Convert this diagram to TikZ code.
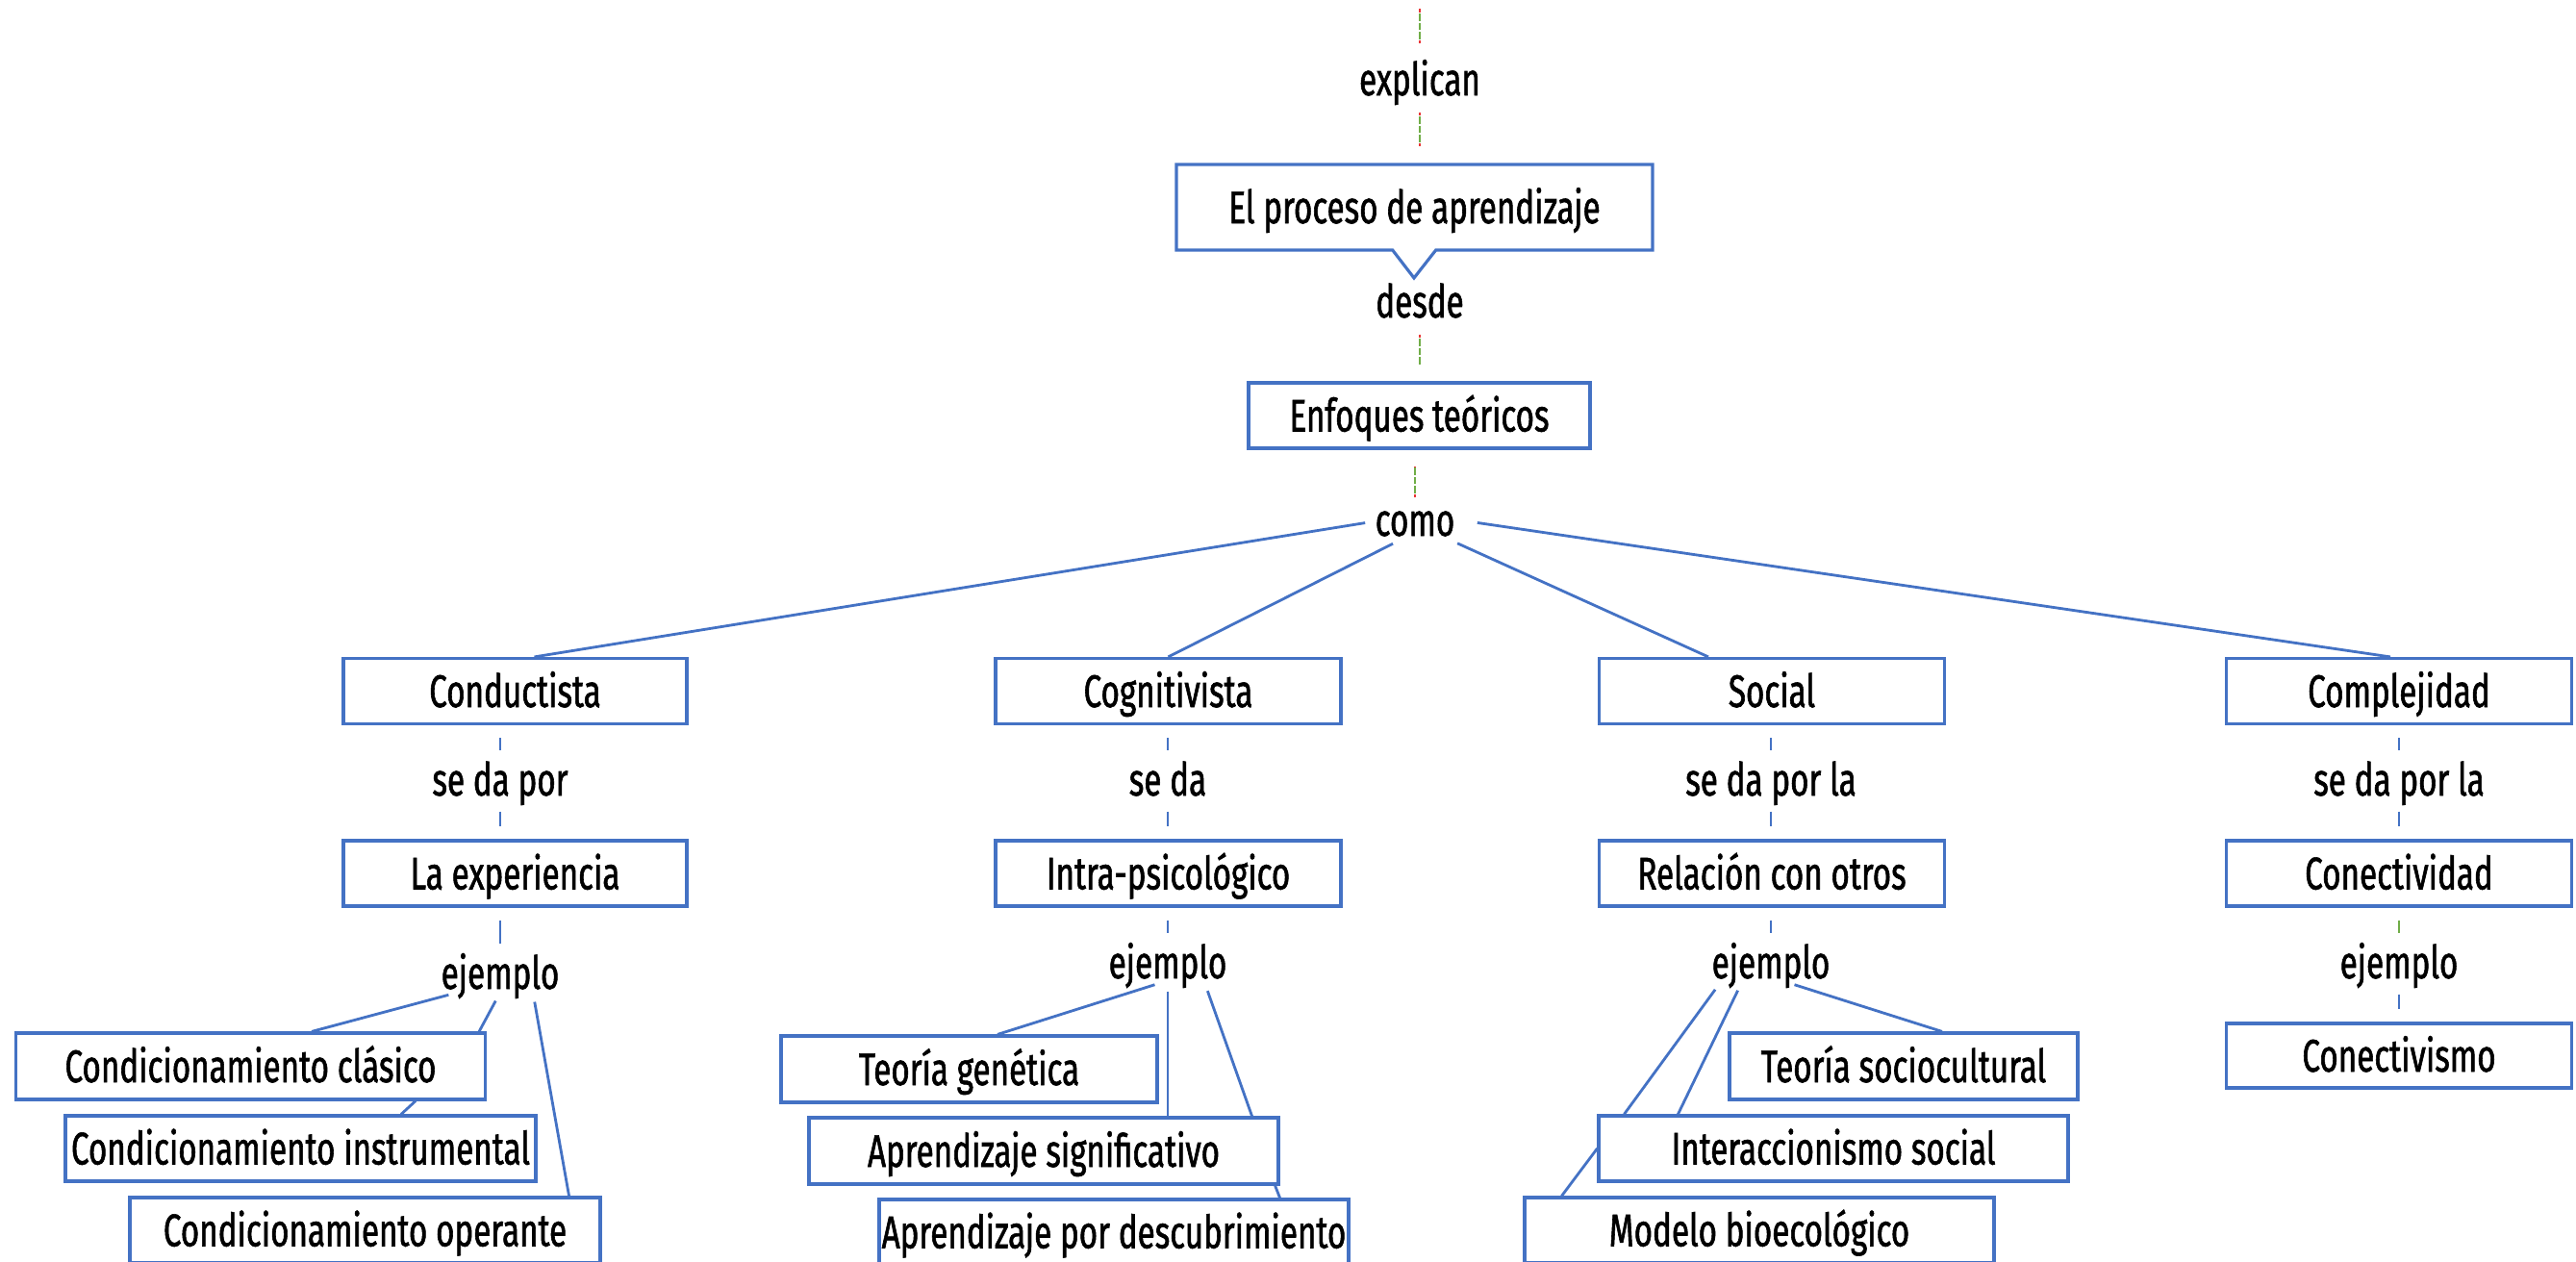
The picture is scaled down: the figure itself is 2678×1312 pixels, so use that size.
\documentclass[tikz,border=0pt]{standalone}
\usepackage{fontspec}
\setmainfont[FakeStretch=0.7, FakeBold=1.2]{Fira Sans}
\usetikzlibrary{shapes.callouts}
\definecolor{boxblue}{RGB}{68,114,196}
\definecolor{tred}{RGB}{232,52,52}
\definecolor{tgreen}{RGB}{112,173,71}

\begin{document}
\begin{tikzpicture}[x=0.1mm, y=-0.1mm,
  font=\fontsize{13.5pt}{16pt}\selectfont,
  box/.style={draw=boxblue, line width=0.9pt, fill=white, inner sep=0pt, minimum height=6.8mm, text height=9.4pt, text depth=0pt},
  lbl/.style={anchor=base, inner sep=0pt, text height=9.4pt, text depth=0.3mm},
  branch/.style={draw=boxblue, line width=0.8pt},
  twig/.style={branch, shorten <=1mm},
  tie/.style={draw=boxblue, line width=0.8pt, shorten <=1.3mm, shorten >=1.3mm},
  longtie/.style={draw=tred, line width=0.7pt, shorten <=1.4mm, shorten >=1.7mm,
    dash pattern=on 0.35mm off 2.9mm on 0.35mm off 10mm,
    postaction={draw=tgreen, dash pattern=on 0pt off 0.45mm on 0.75mm off 0.2mm on 0.75mm off 0.2mm on 0.75mm off 10mm}}]
\useasboundingbox (0,0) rectangle (2678,1312);

\coordinate (topend) at (1476,9);
\node[lbl] (expl) at (1476,99) {explican};
\node[box, rectangle callout, minimum width=49.5mm, minimum height=8.9mm,
  callout absolute pointer={(1470,289)}, callout pointer width=4.5mm] (proc) at (1470.5,215.5) {El proceso de aprendizaje};
\node[lbl] (desde) at (1476,330) {desde};
\node[box, minimum width=35.5mm] (enf) at (1475.5,432) {Enfoques teóricos};
\node[lbl] (como) at (1471,557) {como};

\node[box, minimum width=35.7mm] (cond) at (535.5,718.5) {Conductista};
\node[box, minimum width=35.9mm] (cog) at (1214.5,718.5) {Cognitivista};
\node[box, minimum width=35.9mm] (soc) at (1842,718.5) {Social};
\node[box, minimum width=35.9mm] (comp) at (2494,718.5) {Complejidad};

\node[lbl] (sedaA) at (520,827) {se da por};
\node[lbl] (sedaB) at (1214,827) {se da};
\node[lbl] (sedaC) at (1841,827) {se da por la};
\node[lbl] (sedaD) at (2494,827) {se da por la};

\node[box, minimum width=35.7mm] (expe) at (535.5,908) {La experiencia};
\node[box, minimum width=35.9mm] (intra) at (1214.5,908) {Intra-psicológico};
\node[box, minimum width=35.9mm] (rel) at (1842,908) {Relación con otros};
\node[box, minimum width=35.9mm] (conec) at (2494,908) {Conectividad};

\node[lbl] (ejA) at (520,1028) {ejemplo};
\node[lbl] (ejB) at (1214,1017) {ejemplo};
\node[lbl] (ejC) at (1841,1017) {ejemplo};
\node[lbl] (ejD) at (2494,1017) {ejemplo};

\node[box, minimum width=48.8mm, minimum height=6.9mm] (clas) at (260.5,1108.5) {Condicionamiento clásico};
\node[box, minimum width=48.9mm] (inst) at (312.5,1194) {Condicionamiento instrumental};
\node[box, minimum width=48.9mm] (oper) at (379.5,1279) {Condicionamiento operante};
\node[box, minimum width=39.1mm, minimum height=6.9mm] (gen) at (1007.5,1111.5) {Teoría genética};
\node[box, minimum width=48.8mm, minimum height=6.9mm] (sig) at (1085,1196.5) {Aprendizaje significativo};
\node[box, minimum width=48.8mm] (desc) at (1158,1281) {Aprendizaje por descubrimiento};
\node[box, minimum width=36.2mm, minimum height=6.9mm] (soci) at (1979,1108.5) {Teoría sociocultural};
\node[box, minimum width=48.8mm] (inter) at (1906,1194) {Interaccionismo social};
\node[box, minimum width=48.8mm] (mod) at (1829,1279) {Modelo bioecológico};
\node[box, minimum width=35.9mm, minimum height=6.7mm] (conv) at (2494,1097.5) {Conectivismo};

\draw[longtie, shorten <=2mm, shorten >=0pt] (expl) -- (topend);
\draw[longtie] (expl) -- (expl |- proc.north);
\draw[longtie] (desde) -- (desde |- enf.north);
\draw[longtie, shorten <=0.6mm] (como) -- (como |- enf.south);

\draw[twig] (como.west) -- ([xshift=2mm]cond.north);
\draw[twig] ([xshift=-1.4mm]como.south) -- (cog.north);
\draw[twig] ([xshift=3.5mm]como.south) -- ([xshift=-6.6mm]soc.north);
\draw[twig] ([xshift=1.3mm]como.east) -- ([xshift=-0.9mm]comp.north);

\draw[tie] (cond.south -| sedaA) -- (sedaA);
\draw[tie] (sedaA) -- (sedaA |- expe.north);
\draw[tie] (cog.south -| sedaB) -- (sedaB);
\draw[tie] (sedaB) -- (sedaB |- intra.north);
\draw[tie] (soc.south -| sedaC) -- (sedaC);
\draw[tie] (sedaC) -- (sedaC |- rel.north);
\draw[tie] (comp.south -| sedaD) -- (sedaD);
\draw[tie] (sedaD) -- (sedaD |- conec.north);

\draw[tie] (expe.south -| ejA) -- (ejA);
\draw[tie] (intra.south -| ejB) -- (ejB);
\draw[tie] (rel.south -| ejC) -- (ejC);
\draw[tie, draw=tgreen] (conec.south -| ejD) -- (ejD);
\draw[tie] (ejD) -- (ejD |- conv.north);

\draw[twig] ([xshift=-4.4mm]ejA.south) -- ([xshift=6.35mm]clas.north);
\draw[twig] (ejA.south) -- ([xshift=-0.8mm]clas.north east);
\draw[twig] ([xshift=3.4mm]ejA.south) -- ([xshift=-3.4mm]oper.north east);
\draw[branch] ([xshift=17.15mm]clas.south) -- ([xshift=10.45mm]inst.north);

\draw[twig] ([xshift=-0.4mm]ejB.south) -- ([xshift=2.95mm]gen.north);
\draw[twig] (ejB.south) -- (ejB.south |- sig.north);
\draw[twig] ([xshift=3.8mm]ejB.south) -- ([xshift=-2.9mm]sig.north east);
\draw[branch] ([xshift=-0.5mm]sig.south east) -- ([xshift=-7.3mm]desc.north east);

\draw[twig] ([xshift=1.5mm]ejC.south) -- ([xshift=4mm]soci.north);
\draw[twig] ([xshift=-5.2mm]ejC.south) -- ([xshift=2.8mm]inter.north west);
\draw[twig] ([xshift=-3mm]ejC.south) -- ([xshift=8.4mm]inter.north west);
\draw[branch] (inter.west) -- ([xshift=4mm]mod.north west);
\end{tikzpicture}
\end{document}
